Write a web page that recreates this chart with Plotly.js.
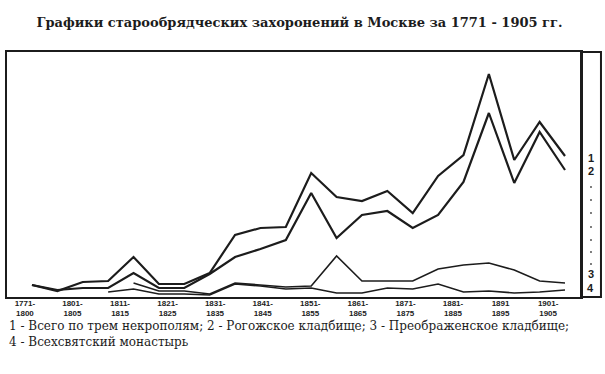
<!DOCTYPE html>
<html>
<head>
<meta charset="utf-8">
<script src="https://cdn.plot.ly/plotly-3.0.1.min.js"></script>
<style>html,body{margin:0;padding:0;background:#fff;}#chart{width:605px;height:374px;}</style>
</head>
<body>
<div id="chart"></div>
<script>
// Periods (5-year intervals, first one 1771-1800)
const periods = ["1771-1800","1801-1805","1806-1810","1811-1815","1816-1820","1821-1825",
  "1826-1830","1831-1835","1836-1840","1841-1845","1846-1850","1851-1855","1856-1860",
  "1861-1865","1866-1870","1871-1875","1876-1880","1881-1885","1886-1890","1891-1895",
  "1896-1900","1901-1905"];
// Tick labels shown under the axis
const tickLabels = ["1771-<br>1800","1801-<br>1805","1811-<br>1815","1821-<br>1825","1831-<br>1835",
  "1841-<br>1845","1851-<br>1855","1861-<br>1865","1871-<br>1875","1881-<br>1885","1891<br>1895","1901-<br>1905"];
// Series values (relative units)
const total   = [12,6,15,16,40,13,13,24,62,69,70,124,100,96,106,84,121,142,223,137,175,141];
const rogozh  = [12,7,9,9,24,9,9,23,40,48,57,104,59,82,86,69,82,115,184,114,165,127];
const preobr  = [null,null,null,null,14,6,6,3,14,12,10,11,41,16,16,16,28,32,34,27,16,14];
const vsekh   = [null,null,null,5,8,3,3,2,13,11,8,9,4,4,9,8,13,5,6,4,5,7];
const seriesNames = ["Всего по трем некрополям","Рогожское кладбище","Преображенское кладбище","Всехсвятский монастырь"];
const endLabels = ["1","2","3","4"];

const xs = periods.map((p,i)=>i);
const serif = "DejaVu Serif, Liberation Serif, serif";
const ink = "#1c1c1c";

function tr(y, name, w){
  return {x: xs, y: y, name: name, type: "scatter", mode: "lines",
    line: {color: ink, width: w}, connectgaps: false, hoverinfo: "x+y",
    text: periods};
}
const data = [
  tr(total, seriesNames[0], 2.2),
  tr(rogozh, seriesNames[1], 2.2),
  tr(preobr, seriesNames[2], 1.6),
  tr(vsekh, seriesNames[3], 1.6)
];

// label tick positions (evenly spread as in the printed figure)
const tickStart = -0.28, tickStep = 1.874;
const tickvals = tickLabels.map((t,k)=>tickStart + tickStep*k);

const annotations = [];
const colX = 1.0174;
// end labels in right column
const endY = [139,126,23,9];
endLabels.forEach((t,i)=>annotations.push({xref:"paper", yref:"y", x:colX, y:endY[i], text:"<b>"+t+"</b>",
  showarrow:false, font:{family:"Liberation Sans, Arial", size:11, color:ink}, xanchor:"center", yanchor:"middle"}));
// legend text below the chart (two lines)
annotations.push({xref:"paper", yref:"paper", x:0.0, y:-0.151, xanchor:"left", yanchor:"middle", align:"left",
  showarrow:false,
  text:"1 - "+seriesNames[0]+"; 2 - "+seriesNames[1]+"; 3 - "+seriesNames[2]+";<br>4 - "+seriesNames[3],
  font:{family:serif, size:12, color:ink}});

const shapes = [
  {type: "rect", xref: "paper", yref: "paper", x0: 1, x1: 1.0348, y0: 0, y1: 1,
    line: {color: ink, width: 2}, fillcolor: "rgba(0,0,0,0)"}
];
// dotted leaders in the right column
[110,97,84,70,57,45,33].forEach(v=>shapes.push({type:"circle", xref:"paper", yref:"y",
  x0: colX-0.0016, x1: colX+0.0016, y0: v-0.9, y1: v+0.9, fillcolor:"#444", line:{width:0}}));

const layout = {
  width: 605, height: 374,
  margin: {l: 7, r: 24, t: 52, b: 77},
  paper_bgcolor: "#fff", plot_bgcolor: "#fff",
  showlegend: false,
  title: {text: "<b>Графики старообрядческих захоронений в Москве за 1771 - 1905 гг.</b>",
    font: {family: serif, size: 13, color: ink}, xref: "container", x: 0.495, xanchor: "center",
    yref: "container", y: 0.94, yanchor: "middle"},
  xaxis: {range: [-0.985, 21.63], showgrid: false, zeroline: false, showline: true, mirror: true,
    linecolor: ink, linewidth: 2, ticks: "", tickvals: tickvals, ticklabelstandoff: -3,
    ticktext: tickLabels.map(t=>"<b>"+t+"</b>"),
    tickfont: {family: "Liberation Sans, Arial", size: 8, color: ink}, tickangle: 0},
  yaxis: {range: [0, 245], showgrid: false, zeroline: false, showline: true, mirror: true,
    linecolor: ink, linewidth: 2, showticklabels: false, ticks: ""},
  shapes: shapes,
  annotations: annotations
};
Plotly.newPlot("chart", data, layout, {displayModeBar: false, staticPlot: true});
</script>
</body>
</html>
